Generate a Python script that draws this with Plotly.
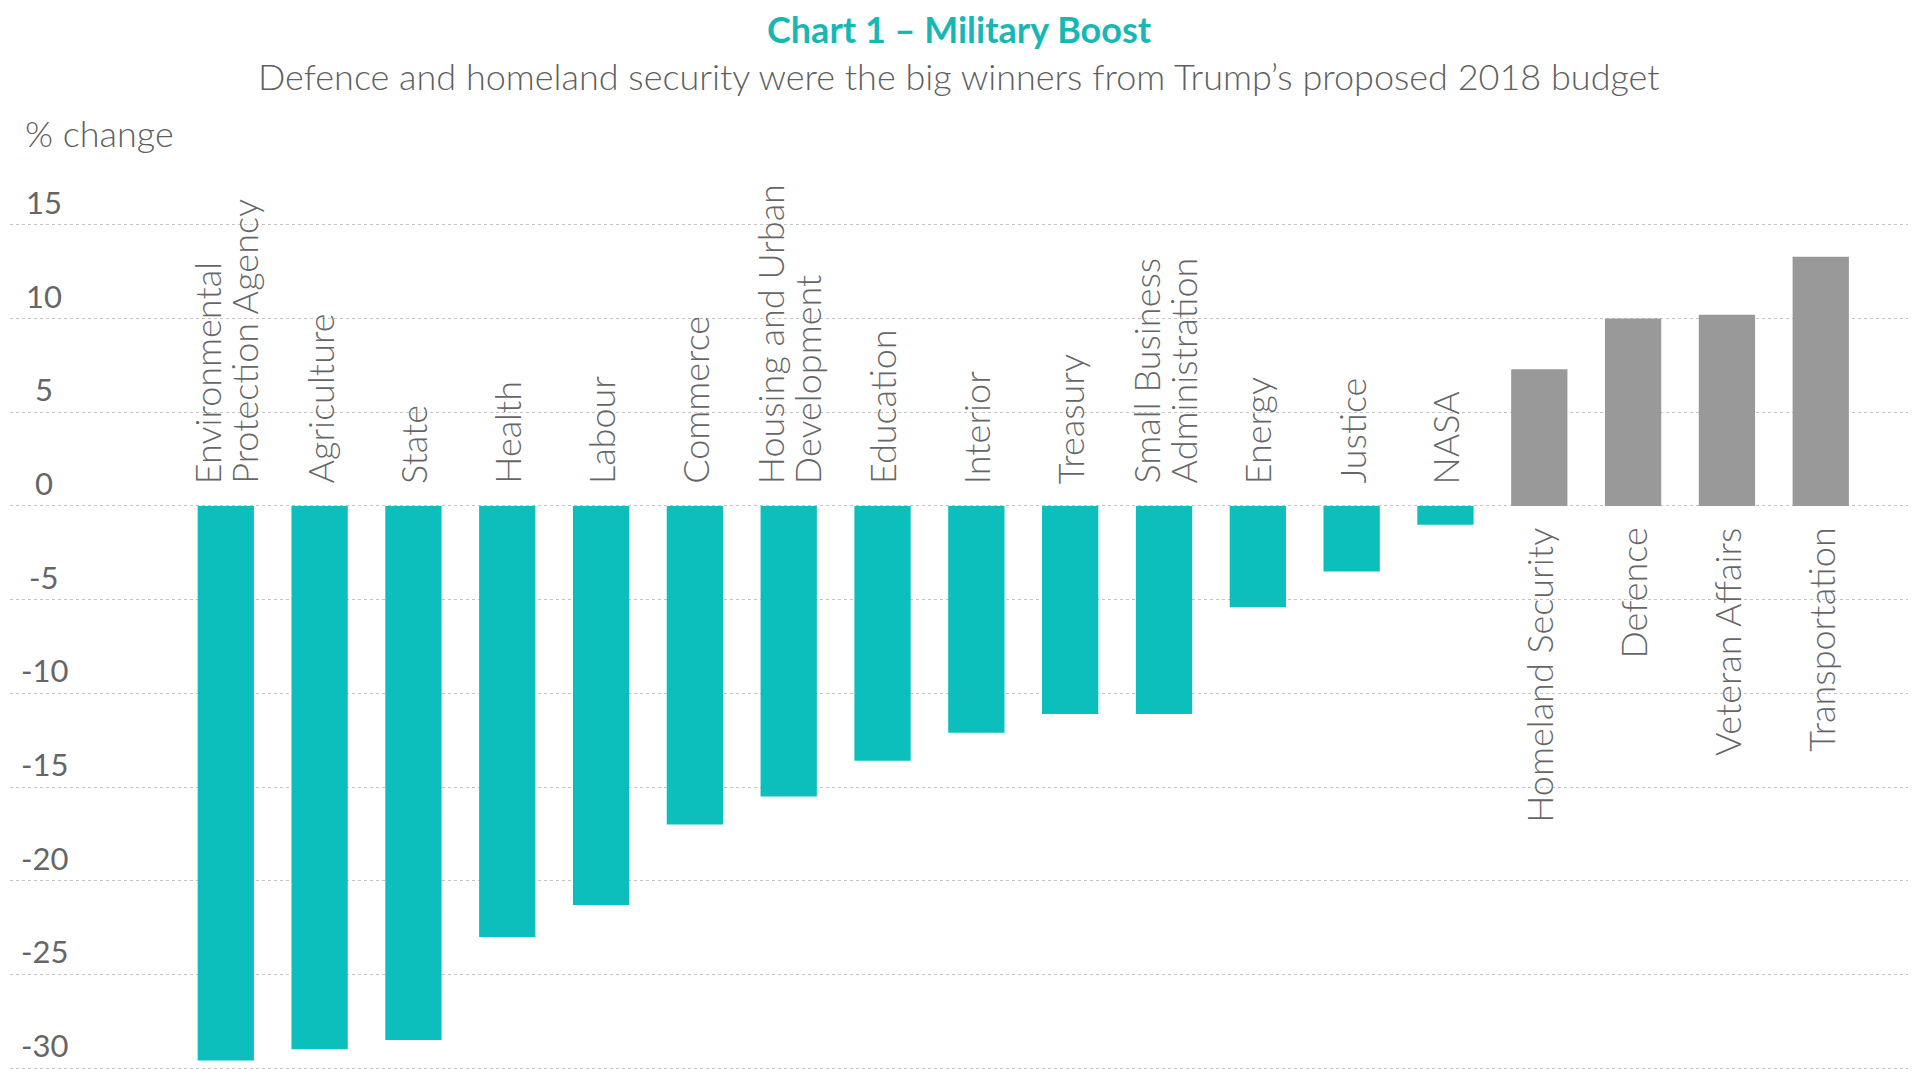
import plotly.graph_objects as go

categories = ["Environmental<br>Protection Agency", "Agriculture", "State", "Health", "Labour",
              "Commerce", "Housing and Urban<br>Development", "Education", "Interior", "Treasury",
              "Small Business<br>Administration", "Energy", "Justice", "NASA",
              "Homeland Security", "Defence", "Veteran Affairs", "Transportation"]
values = [-29.6, -29.0, -28.5, -23.0, -21.3, -17.0, -15.5, -13.6, -12.1, -11.1, -11.1,
          -5.4, -3.5, -1.0, 7.3, 10.0, 10.2, 13.3]
tick_vals = [15, 10, 5, 0, -5, -10, -15, -20, -25, -30]

TEAL = "#0DBFBC"
GRAY = "#999999"
TXT = "#666666"
FONT = "Lato"
LINE_GAP = 37  # px between the lines of a two-line label

colors = [TEAL if v < 0 else GRAY for v in values]
xs = list(range(len(categories)))

fig = go.Figure()
fig.add_trace(go.Bar(x=xs, y=values, marker=dict(color=colors, line=dict(width=0)),
                     width=0.6, hoverinfo="skip"))

for i, (c, v) in enumerate(zip(categories, values)):
    lines = c.split("<br>")
    n = len(lines)
    for k, line in enumerate(lines):
        xshift = (k - (n - 1) / 2) * LINE_GAP
        if v < 0:
            fig.add_annotation(x=i, y=0, text=line, textangle=-90, showarrow=False,
                               xanchor="center", yanchor="bottom", yshift=20, xshift=xshift,
                               font=dict(family=FONT, size=36, color=TXT, weight=300))
        else:
            fig.add_annotation(x=i, y=0, text=line, textangle=-90, showarrow=False,
                               xanchor="center", yanchor="top", yshift=-20, xshift=xshift,
                               font=dict(family=FONT, size=36, color=TXT, weight=300))

for t in tick_vals:
    fig.add_annotation(xref="paper", x=0.018, y=t, text=str(t), showarrow=False,
                       xanchor="center", yanchor="bottom", yshift=2,
                       font=dict(family=FONT, size=31, color=TXT))

fig.add_annotation(xref="paper", yref="paper", x=0.5, y=1.196, text="<b>Chart 1 – Military Boost</b>",
                   showarrow=False, xanchor="center", yanchor="middle",
                   font=dict(family=FONT, size=36, color="#17B8B4"))
fig.add_annotation(xref="paper", yref="paper", x=0.5, y=1.142,
                   text="Defence and homeland security were the big winners from Trump’s proposed 2018 budget",
                   showarrow=False, xanchor="center", yanchor="middle",
                   font=dict(family=FONT, size=36, color="#5F5F5F", weight=300))
fig.add_annotation(xref="paper", yref="paper", x=0.007, y=1.076, text="% change",
                   showarrow=False, xanchor="left", yanchor="middle",
                   font=dict(family=FONT, size=36, color="#5F5F5F", weight=300))

fig.update_layout(
    width=1912, height=1072,
    margin=dict(l=2, r=12, t=192, b=5),
    paper_bgcolor="white", plot_bgcolor="white",
    showlegend=False,
    bargap=0.4,
)
fig.update_xaxes(range=[-2.30, 17.93], showticklabels=False, showgrid=False, zeroline=False,
                 showline=False, ticks="")
fig.update_yaxes(range=[-30.37, 16.33], tickvals=tick_vals, showticklabels=False,
                 showgrid=True, gridcolor="#C4C4C4", gridwidth=1, griddash="dot",
                 zeroline=False, showline=False, ticks="")

fig.write_html("out.html")
